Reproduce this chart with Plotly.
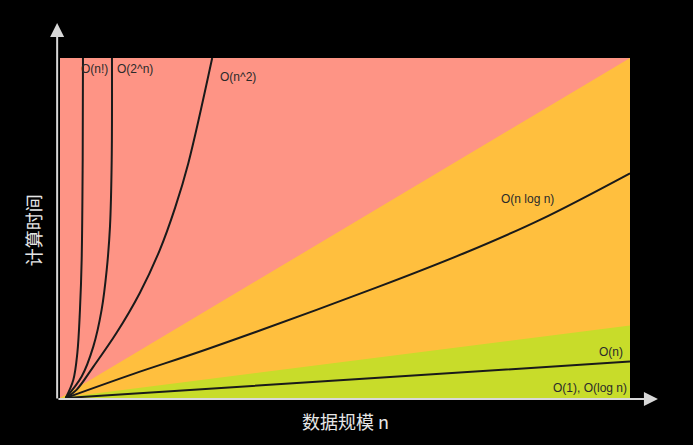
"""Big-O complexity regions chart."""

import plotly.graph_objects as go

# ---------------------------------------------------------------------------
# data (x: 数据规模 n, y: 计算时间, both on a 0-100 scale)
# ---------------------------------------------------------------------------
red_x = [0, 0, 100, 100]
red_y = [0, 100, 100, 0]
orange_x = [0, 100, 100]
orange_y = [0, 100, 0]
green_x = [0, 100, 100]
green_y = [0, 21.3, 0]

fact_x = [1.0, 2.33, 3.04, 3.5, 3.8, 3.98, 4.03]
fact_y = [0, 5.3, 13.2, 25.9, 40.6, 70, 100]
exp_x = [1.0, 3.8, 5.84, 7.3, 8.19, 8.77, 9.07, 9.12]
exp_y = [0, 6.3, 15.1, 25.9, 37.6, 50.4, 70, 100]
sq_x = [1.0, 2.9, 5.8, 9.9, 14.0, 17.5, 20.2, 22.5, 26.7]
sq_y = [0, 2.4, 9.1, 19.1, 30.9, 43.5, 56.0, 69.0, 100]
nlogn_x = [1.0, 12.9, 25.9, 55.7, 71.2, 84.2, 100]
nlogn_y = [0, 7.1, 14.4, 32.6, 42.8, 52.4, 66.1]
log_x = [1.0, 51.8, 100]
log_y = [0, 5.5, 10.7]

labels = ["O(n!)", "O(2^n)", "O(n^2)", "O(n log n)", "O(n)", "O(1), O(log n)"]
label_x = [6.1, 13.2, 31.2, 82.1, 96.6, 93.0]
label_y = [96.8, 96.8, 94.4, 58.5, 13.5, 2.9]

SALMON = "#FE9485"
ORANGE = "#FFBF3E"
GREEN = "#C8DC2A"
INK = "#1a1a1a"

fig = go.Figure()

for xs, ys, col in [(red_x, red_y, SALMON), (orange_x, orange_y, ORANGE), (green_x, green_y, GREEN)]:
    fig.add_trace(go.Scatter(x=xs, y=ys, fill="toself", fillcolor=col, mode="none",
                             hoverinfo="skip", showlegend=False))

for xs, ys in [(fact_x, fact_y), (exp_x, exp_y), (sq_x, sq_y), (nlogn_x, nlogn_y), (log_x, log_y)]:
    fig.add_trace(go.Scatter(x=xs, y=ys, mode="lines",
                             line=dict(color=INK, width=2, shape="spline", smoothing=1.0),
                             showlegend=False))

for text, x, y in zip(labels, label_x, label_y):
    fig.add_annotation(x=x, y=y, text=text, showarrow=False,
                       font=dict(family="Liberation Sans, Arial", size=12, color="#2a2a2a"))

# axis arrows
fig.add_annotation(xref="paper", yref="paper", x=-0.005, y=1.103, ax=0, ay=377, text="",
                   showarrow=True, arrowhead=2, arrowsize=1.4, arrowwidth=2, arrowcolor="#d8d8d8")
fig.add_annotation(xref="paper", yref="paper", x=1.049, y=-0.003, ax=-601, ay=0, text="",
                   showarrow=True, arrowhead=2, arrowsize=1.4, arrowwidth=2, arrowcolor="#d8d8d8")

# axis titles
fig.add_annotation(xref="paper", yref="paper", x=-0.047, y=0.494, xanchor="center", yanchor="middle",
                   text="计算时间", textangle=-90, showarrow=False,
                   font=dict(family="Noto Sans CJK SC", size=18, color="#e6e6e6"))
fig.add_annotation(xref="paper", yref="paper", x=0.5, y=-0.068, xanchor="center", yanchor="middle",
                   text="数据规模 n", showarrow=False,
                   font=dict(family="Noto Sans CJK SC", size=18, color="#e6e6e6"))

fig.update_xaxes(range=[0, 100], visible=False, fixedrange=True)
fig.update_yaxes(range=[0, 100], visible=False, fixedrange=True)
fig.update_layout(width=693, height=445, margin=dict(l=60, r=63, t=58, b=47),
                  paper_bgcolor="black", plot_bgcolor="black")

fig.write_html("out.html", config={"displayModeBar": False},
               post_script="document.body.style.margin='0';document.body.style.background='black';")
